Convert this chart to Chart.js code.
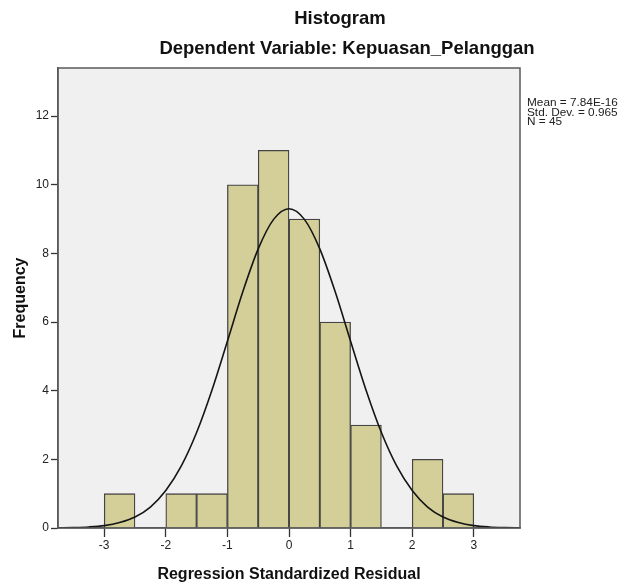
<!DOCTYPE html>
<html>
<head>
<meta charset="utf-8">
<script src="https://cdn.jsdelivr.net/npm/chart.js@4.4.1/dist/chart.umd.min.js"></script>
<style>
    html, body { margin: 0; padding: 0; background: #fff; }
    #wrap { position: relative; width: 623px; height: 588px; }
</style>
</head>
<body>
<div id="wrap"><canvas id="histChart"></canvas></div>
<script>
// Histogram bins (width 0.5)
const binCenters = [-2.75, -2.25, -1.75, -1.25, -0.75, -0.25, 0.25, 0.75, 1.25, 1.75, 2.25, 2.75];
const frequencies = [1, 0, 1, 1, 10, 11, 9, 6, 3, 0, 2, 1];

// Normal curve at steps of 0.25
const curveX = [-3.75, -3.5, -3.25, -3, -2.75, -2.5, -2.25, -2, -1.75, -1.5, -1.25, -1, -0.75, -0.5, -0.25, 0,
    0.25, 0.5, 0.75, 1, 1.25, 1.5, 1.75, 2, 2.25, 2.5, 2.75, 3, 3.25, 3.5, 3.75];
const curveY = [0.005, 0.013, 0.03, 0.07, 0.16, 0.32, 0.61, 1.09, 1.80, 2.78, 4.02, 5.44, 6.88, 8.13, 8.99, 9.30,
    8.99, 8.13, 6.88, 5.44, 4.02, 2.78, 1.80, 1.09, 0.61, 0.32, 0.16, 0.07, 0.03, 0.013, 0.005];

const xTicks = [-3, -2, -1, 0, 1, 2, 3];
const yTicks = [0, 2, 4, 6, 8, 10, 12];

const titleText = 'Histogram';
const subtitleText = 'Dependent Variable: Kepuasan_Pelanggan';
const statsLines = ['Mean = 7.84E-16', 'Std. Dev. = 0.965', 'N = 45'];

const FONT = '"Liberation Sans", Arial, sans-serif';

// plot background, frame, titles and the stats box
const spssFrame = {
    id: 'spssFrame',
    beforeDraw(chart) {
        const { ctx, chartArea: a } = chart;
        ctx.save();
        ctx.fillStyle = '#f0f0f0';
        ctx.fillRect(a.left, a.top, a.right - a.left, a.bottom - a.top);
        ctx.restore();
    },
    afterDraw(chart) {
        const { ctx, chartArea: a } = chart;
        ctx.save();
        ctx.strokeStyle = '#5a5a5a';
        ctx.lineWidth = 1.5;
        ctx.strokeRect(a.left, a.top, a.right - a.left, a.bottom - a.top);

        ctx.fillStyle = '#111';
        ctx.textAlign = 'center';
        ctx.textBaseline = 'alphabetic';
        ctx.font = 'bold 18.5px ' + FONT;
        ctx.fillText(titleText, 340, 24);
        ctx.fillText(subtitleText, 347, 54);

        ctx.textAlign = 'left';
        ctx.font = '11.8px ' + FONT;
        ctx.fillStyle = '#222';
        statsLines.forEach((line, i) => {
            ctx.fillText(line, a.right + 7, a.top + 38 + i * 9.5);
        });
        ctx.restore();
    }
};

const chart = new Chart(document.getElementById('histChart'), {
    type: 'bar',
    data: {
        datasets: [
            {
                type: 'line',
                data: curveX.map((x, i) => ({ x, y: curveY[i] })),
                borderColor: '#151515',
                borderWidth: 1.6,
                pointRadius: 0,
                cubicInterpolationMode: 'monotone',
                order: 0
            },
            {
                data: binCenters.map((x, i) => ({ x, y: frequencies[i] })),
                backgroundColor: '#d4cf98',
                borderColor: '#444',
                borderWidth: 1.3,
                borderSkipped: 'start',
                barPercentage: 1,
                categoryPercentage: 1,
                order: 1
            }
        ]
    },
    options: {
        responsive: true,
        maintainAspectRatio: false,
        animation: false,
        layout: { padding: { top: 68, right: 103, left: 0, bottom: 0 } },
        plugins: {
            legend: { display: false },
            tooltip: { enabled: false }
        },
        scales: {
            x: {
                type: 'linear',
                min: -3.75,
                max: 3.75,
                offset: false,
                afterFit: s => { s.height = 60; },
                afterBuildTicks: s => { s.ticks = xTicks.map(v => ({ value: v })); },
                grid: { drawOnChartArea: false, offset: false, tickLength: 9, tickColor: '#333', tickWidth: 1.3 },
                border: { color: '#5a5a5a', width: 1.5 },
                ticks: { font: { family: FONT, size: 12 }, color: '#222', padding: 1, maxRotation: 0 },
                title: {
                    display: true,
                    text: 'Regression Standardized Residual',
                    font: { family: FONT, size: 16, weight: 'bold' },
                    color: '#111',
                    padding: { top: 0, bottom: 4 }
                }
            },
            y: {
                min: 0,
                max: 13.4,
                afterFit: s => { s.width = 58; },
                afterBuildTicks: s => { s.ticks = yTicks.map(v => ({ value: v })); },
                grid: { drawOnChartArea: false, tickLength: 7, tickColor: '#333', tickWidth: 1.3 },
                border: { color: '#5a5a5a', width: 1.5 },
                ticks: { font: { family: FONT, size: 12 }, color: '#222', padding: 2 },
                title: {
                    display: true,
                    text: 'Frequency',
                    font: { family: FONT, size: 16, weight: 'bold' },
                    color: '#111',
                    padding: { top: 11, bottom: 0 }
                }
            }
        }
    },
    plugins: [spssFrame]
});
</script>
</body>
</html>
